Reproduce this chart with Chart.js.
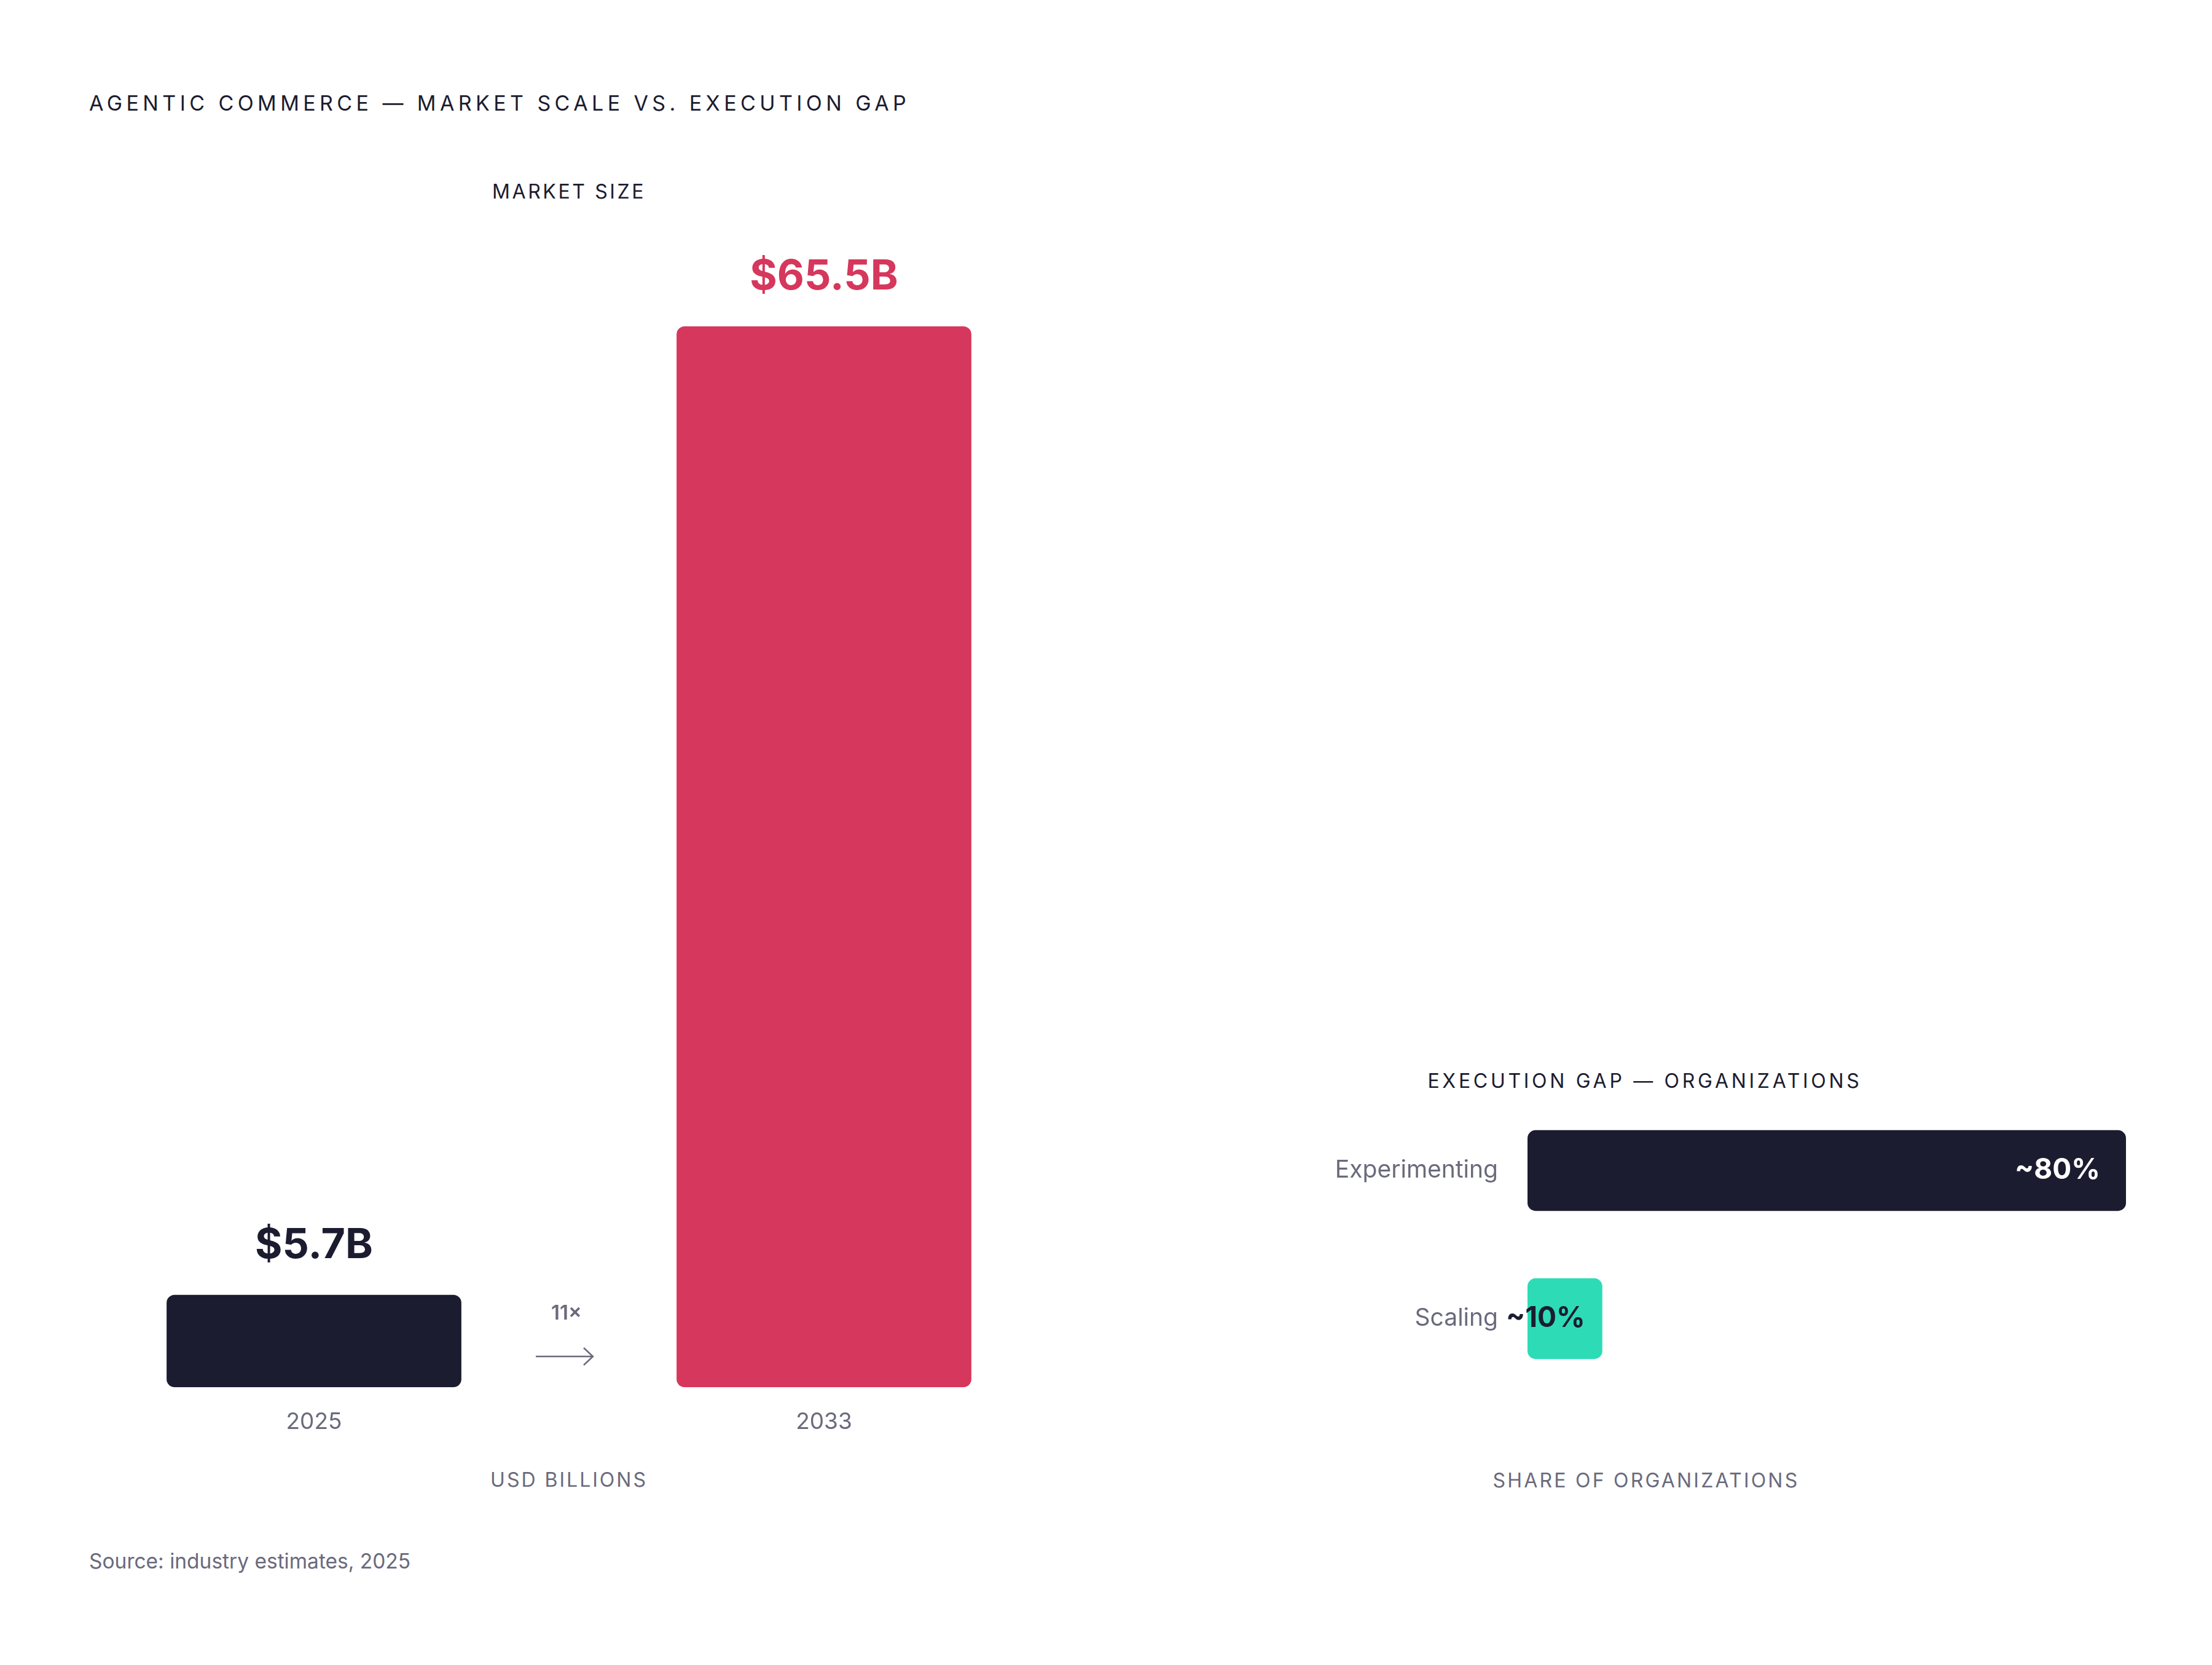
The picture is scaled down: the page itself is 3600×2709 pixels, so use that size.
<!DOCTYPE html>
<html>
<head>
<meta charset="utf-8">
<script src="https://cdn.jsdelivr.net/npm/chart.js@4.4.1/dist/chart.umd.min.js"></script>
<style>
    html, body { margin: 0; padding: 0; background: #fff; }
    body { width: 3600px; height: 2709px; position: relative; overflow: hidden;
           font-family: Inter, "Noto Sans", sans-serif; color: #1b1c2f; }
    .t { position: absolute; line-height: 1; white-space: nowrap; }
    .mid { transform: translateX(-50%); }
    .box { position: absolute; }
    .gray { color: #6a6a7c; }
</style>
</head>
<body>
<div class="t" style="left:145px; top:151px; font-size:34px; letter-spacing:6.4px;">AGENTIC COMMERCE — MARKET SCALE VS. EXECUTION GAP</div>
<div class="t mid" style="left:926px; top:296px; font-size:32px; letter-spacing:3.6px;">MARKET SIZE</div>
<div class="t mid" style="left:2677px; top:1743px; font-size:32px; letter-spacing:4.7px;">EXECUTION GAP — ORGANIZATIONS</div>
<div class="t mid gray" style="left:926px; top:2392px; font-size:32px; letter-spacing:3px;">USD BILLIONS</div>
<div class="t mid gray" style="left:2679px; top:2393px; font-size:32px; letter-spacing:3.2px;">SHARE OF ORGANIZATIONS</div>
<div class="t gray" style="left:145px; top:2524px; font-size:33.5px;">Source: industry estimates, 2025</div>

<div class="box" style="left:96px; top:380px; width:1660px; height:1960px;"><canvas id="market"></canvas></div>
<div class="box" style="left:2086px; top:1784px; width:1460px; height:482px;"><canvas id="gap"></canvas></div>

<script>
// market size, USD billions
var years = ['2025', '2033'];
var marketSize = [5.7, 65.5];
var growthLabel = '11×';

// share of organizations, %
var stages = ['Experimenting', 'Scaling'];
var orgShare = [80, 10];

var NAVY = '#1b1c2f', RED = '#d6375c', TEAL = '#2ddcb6', GRAY = '#6a6a7c';
var FONT = 'Inter, "Noto Sans", sans-serif';

var marketLabels = {
    id: 'marketLabels',
    afterDatasetsDraw: function(chart) {
        var ctx = chart.ctx;
        var bars = chart.getDatasetMeta(0).data;
        var colors = [NAVY, RED];
        ctx.save();
        ctx.textAlign = 'center';
        ctx.textBaseline = 'middle';
        ctx.font = '700 68px ' + FONT;
        bars.forEach(function(bar, i) {
            ctx.fillStyle = colors[i];
            ctx.fillText('$' + marketSize[i].toFixed(1) + 'B', bar.x, bar.y - 80);
        });

        // growth arrow between the two bars
        var mx = (bars[0].x + bars[0].width / 2 + bars[1].x - bars[1].width / 2) / 2 - 6;
        var base = chart.scales.y.getPixelForValue(0);
        ctx.fillStyle = GRAY;
        ctx.font = '600 33px ' + FONT;
        ctx.fillText(growthLabel, mx + 2, base - 120);
        var ay = base - 50;
        ctx.strokeStyle = GRAY;
        ctx.lineWidth = 2.5;
        ctx.beginPath();
        ctx.moveTo(mx - 48, ay); ctx.lineTo(mx + 44, ay);
        ctx.moveTo(mx + 30, ay - 14); ctx.lineTo(mx + 45, ay); ctx.lineTo(mx + 30, ay + 14);
        ctx.stroke();
        ctx.restore();
    }
};

new Chart(document.getElementById('market').getContext('2d'), {
    type: 'bar',
    data: {
        labels: years,
        datasets: [{
            data: marketSize,
            backgroundColor: [NAVY, RED],
            borderRadius: 13,
            borderSkipped: false,
            categoryPercentage: 1,
            barPercentage: 0.578
        }]
    },
    options: {
        responsive: true,
        maintainAspectRatio: false,
        devicePixelRatio: 1,
        animation: false,
        layout: {autoPadding: false, padding: {top: 151, left: 0, right: 0, bottom: 0}},
        plugins: {legend: {display: false}, tooltip: {enabled: false}},
        scales: {
            x: {
                grid: {display: false, drawTicks: false},
                border: {display: false},
                ticks: {color: GRAY, font: {family: FONT, size: 37}, padding: 35},
                afterFit: function(scale) { scale.height = 83; }
            },
            y: {display: false, min: 0, max: 65.5}
        }
    },
    plugins: [marketLabels]
});

var gapLabels = {
    id: 'gapLabels',
    afterDatasetsDraw: function(chart) {
        var ctx = chart.ctx;
        var textColors = ['#ffffff', NAVY];
        var insets = [42, 28];
        ctx.save();
        ctx.textAlign = 'right';
        ctx.textBaseline = 'middle';
        ctx.font = '700 46px ' + FONT;
        chart.getDatasetMeta(0).data.forEach(function(bar, i) {
            ctx.fillStyle = textColors[i];
            ctx.fillText('~' + orgShare[i] + '%', bar.x - insets[i], bar.y);
        });
        ctx.restore();
    }
};

new Chart(document.getElementById('gap').getContext('2d'), {
    type: 'bar',
    data: {
        labels: stages,
        datasets: [{
            data: orgShare,
            backgroundColor: [NAVY, TEAL],
            borderRadius: 13,
            borderSkipped: false,
            categoryPercentage: 1,
            barPercentage: 0.545
        }]
    },
    options: {
        indexAxis: 'y',
        responsive: true,
        maintainAspectRatio: false,
        devicePixelRatio: 1,
        animation: false,
        layout: {autoPadding: false, padding: {top: 0, left: 0, right: 86, bottom: 0}},
        plugins: {legend: {display: false}, tooltip: {enabled: false}},
        scales: {
            x: {display: false, min: 0, max: 80},
            y: {
                grid: {display: false, drawTicks: false},
                border: {display: false},
                ticks: {color: GRAY, font: {family: FONT, size: 39}, padding: 48},
                afterFit: function(scale) {
                    scale.width = 400;
                    scale.paddingTop = 0;
                    scale.paddingBottom = 0;
                }
            }
        }
    },
    plugins: [gapLabels]
});
</script>
</body>
</html>
